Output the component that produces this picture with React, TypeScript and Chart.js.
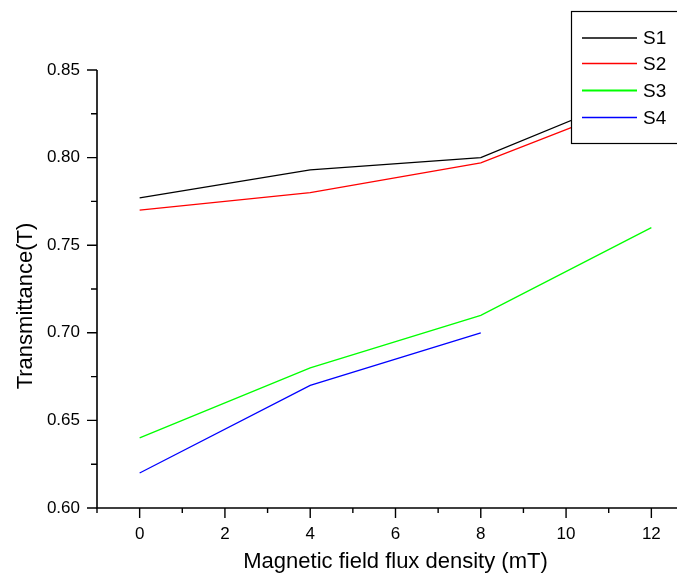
import React, { useEffect, useRef } from "react";
import { Chart, registerables } from "chart.js";

Chart.register(...registerables);

const xValues = [0, 4, 8, 12];
const s1 = [0.777, 0.793, 0.8, 0.84];
const s2 = [0.77, 0.78, 0.797, 0.835];
const s3 = [0.64, 0.68, 0.71, 0.76];
const s4x = [0, 4, 8];
const s4 = [0.62, 0.67, 0.7];
const seriesNames = ["S1", "S2", "S3", "S4"];
const seriesColors = ["#000000", "#ff0000", "#00ff00", "#0000ff"];
const xMajorTicks = [0, 2, 4, 6, 8, 10, 12];
const xMinorTicks = [-1, 1, 3, 5, 7, 9, 11, 13];
const yMajorTicks = [0.6, 0.65, 0.7, 0.75, 0.8, 0.85];
const yMinorTicks = [0.625, 0.675, 0.725, 0.775, 0.825];
const yTitle = "Transmittance(T)";
const xTitle = "Magnetic field flux density (mT)";

const FONT = "'Liberation Sans', Arial, sans-serif";

const axesPlugin = {
  id: "originAxes",
  afterDatasetsDraw(chart: any) {
    const { ctx, chartArea } = chart;
    const xs = chart.scales.x;
    const ys = chart.scales.y;
    ctx.save();
    ctx.strokeStyle = "#000";
    ctx.lineWidth = 1.6;
    ctx.beginPath();
    ctx.moveTo(chartArea.left, chartArea.top);
    ctx.lineTo(chartArea.left, chartArea.bottom);
    ctx.lineTo(chartArea.right, chartArea.bottom);
    ctx.stroke();
    ctx.lineWidth = 1.4;
    ctx.beginPath();
    for (const v of xMajorTicks) {
      const px = xs.getPixelForValue(v);
      ctx.moveTo(px, chartArea.bottom);
      ctx.lineTo(px, chartArea.bottom + 10);
    }
    for (const v of xMinorTicks) {
      const px = xs.getPixelForValue(v);
      ctx.moveTo(px, chartArea.bottom);
      ctx.lineTo(px, chartArea.bottom + 5);
    }
    for (const v of yMajorTicks) {
      const py = ys.getPixelForValue(v);
      ctx.moveTo(chartArea.left, py);
      ctx.lineTo(chartArea.left - 10, py);
    }
    for (const v of yMinorTicks) {
      const py = ys.getPixelForValue(v);
      ctx.moveTo(chartArea.left, py);
      ctx.lineTo(chartArea.left - 6, py);
    }
    ctx.stroke();

    // y axis title
    ctx.save();
    ctx.translate(32, 306);
    ctx.rotate(-Math.PI / 2);
    ctx.font = `22px ${FONT}`;
    ctx.fillStyle = "#000";
    ctx.textAlign = "center";
    ctx.textBaseline = "alphabetic";
    ctx.fillText(yTitle, 0, 0);
    ctx.restore();

    // legend box
    const bx = 571, by = 11, bw = 140, bh = 132;
    ctx.fillStyle = "#fff";
    ctx.fillRect(bx, by, bw, bh);
    ctx.lineWidth = 1.2;
    ctx.strokeStyle = "#000";
    ctx.strokeRect(bx + 0.5, by + 0.5, bw, bh);
    const rows = [38, 63.5, 90.5, 117.5];
    ctx.font = `19px ${FONT}`;
    ctx.textBaseline = "middle";
    ctx.textAlign = "left";
    seriesNames.forEach((n, i) => {
      ctx.strokeStyle = seriesColors[i];
      ctx.lineWidth = i === 2 ? 2 : 1.3;
      ctx.beginPath();
      ctx.moveTo(582, rows[i]);
      ctx.lineTo(637, rows[i]);
      ctx.stroke();
      ctx.fillStyle = "#000";
      ctx.fillText(n, 643, rows[i] + 1);
    });
    ctx.restore();
  },
};

export default function App() {
  const ref = useRef<HTMLCanvasElement>(null);
  useEffect(() => {
    if (!ref.current) return;
    const mk = (xsArr: number[], ys: number[]) => xsArr.map((x, i) => ({ x, y: ys[i] }));
    const data = [mk(xValues, s1), mk(xValues, s2), mk(xValues, s3), mk(s4x, s4)];
    const chart = new Chart(ref.current, {
      type: "line",
      data: {
        datasets: data.map((d, i) => ({
          label: seriesNames[i],
          data: d,
          borderColor: seriesColors[i],
          backgroundColor: seriesColors[i],
          borderWidth: 1.3,
          pointRadius: 0,
          tension: 0,
          fill: false,
        })),
      },
      options: {
        animation: false,
        responsive: false,
        devicePixelRatio: 1,
        layout: { padding: { top: 70, right: 26, left: 0, bottom: 0 } },
        plugins: { legend: { display: false }, tooltip: { enabled: false } },
        scales: {
          x: {
            type: "linear",
            min: -1,
            max: 13,
            grid: { display: false, drawTicks: false },
            border: { display: false },
            afterBuildTicks: (s: any) => {
              s.ticks = xMajorTicks.map((v) => ({ value: v }));
            },
            afterFit: (s: any) => {
              s.height = 67;
            },
            ticks: {
              color: "#000",
              font: { family: FONT, size: 17 },
              padding: 16,
              maxRotation: 0,
              autoSkip: false,
              callback: (v: any) => String(v),
            },
            title: {
              display: true,
              text: xTitle,
              color: "#000",
              font: { family: FONT, size: 22 },
              padding: { top: 0, bottom: 0 },
            },
          },
          y: {
            type: "linear",
            min: 0.6,
            max: 0.85,
            grid: { display: false, drawTicks: false },
            border: { display: false },
            afterBuildTicks: (s: any) => {
              s.ticks = yMajorTicks.map((v) => ({ value: v }));
            },
            afterFit: (s: any) => {
              s.width = 97;
            },
            ticks: {
              color: "#000",
              font: { family: FONT, size: 17 },
              padding: 17,
              autoSkip: false,
              callback: (v: any) => Number(v).toFixed(2),
            },
            title: { display: false },
          },
        },
      },
      plugins: [axesPlugin],
    });
    return () => chart.destroy();
  }, []);
  return (
    <div style={{ position: "absolute", left: 0, top: 0, width: 677, height: 575, overflow: "hidden", background: "#fff" }}>
      <canvas ref={ref} width={720} height={575} style={{ display: "block" }} />
    </div>
  );
}
